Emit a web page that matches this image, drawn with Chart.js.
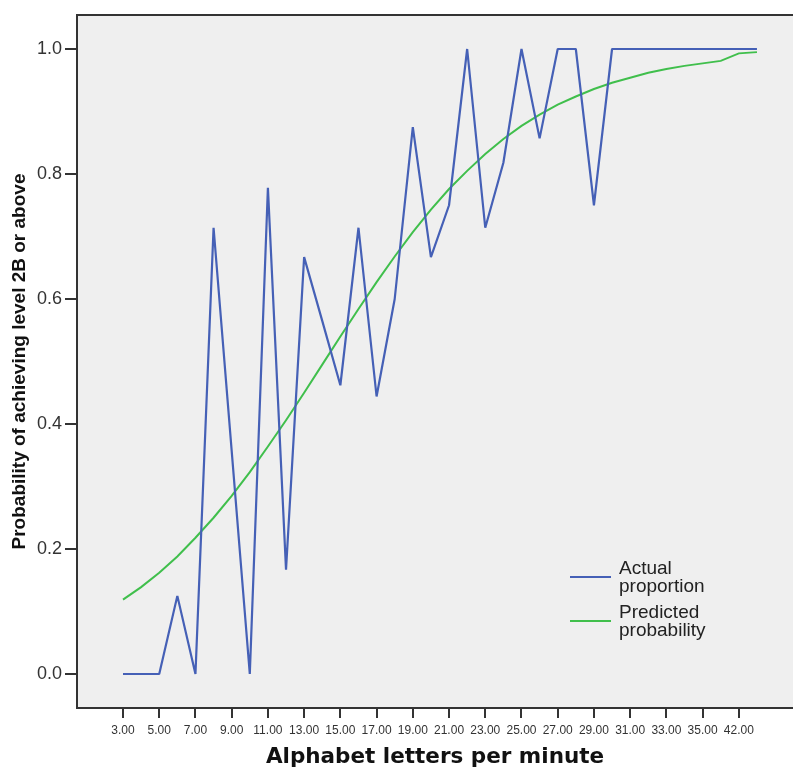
<!DOCTYPE html>
<html>
<head>
<meta charset="utf-8">
<script src="https://cdn.jsdelivr.net/npm/chart.js@4"></script>
<style>
  html, body { margin: 0; padding: 0; background: #fff; }
  #wrap { width: 793px; height: 767px; }
</style>
</head>
<body>
<div id="wrap"><canvas id="myChart" width="793" height="767"></canvas></div>
<script>
// categories on the x axis (only every other one gets a label)
const categories = ["3.00", "4.00", "5.00", "6.00", "7.00", "8.00", "9.00", "10.00", "11.00", "12.00",
    "13.00", "14.00", "15.00", "16.00", "17.00", "18.00", "19.00", "20.00", "21.00", "22.00",
    "23.00", "24.00", "25.00", "26.00", "27.00", "28.00", "29.00", "30.00", "31.00", "32.00",
    "33.00", "34.00", "35.00", "36.00", "42.00", "45.00"];
const actualProportion = [0, 0, 0, 0.125, 0, 0.714, 0.357, 0, 0.778, 0.167,
    0.667, 0.565, 0.462, 0.714, 0.444, 0.6, 0.875, 0.667, 0.75, 1,
    0.714, 0.818, 1, 0.857, 1, 1, 0.75, 1, 1, 1,
    1, 1, 1, 1, 1, 1];
const predictedProbability = [0.119, 0.139, 0.162, 0.188, 0.218, 0.25, 0.285, 0.323, 0.364, 0.406,
    0.45, 0.495, 0.54, 0.584, 0.627, 0.668, 0.707, 0.743, 0.776, 0.805,
    0.832, 0.856, 0.877, 0.895, 0.911, 0.924, 0.936, 0.946, 0.954, 0.962,
    0.968, 0.973, 0.977, 0.981, 0.993, 0.995];
const labelledIdx = [0, 2, 4, 6, 8, 10, 12, 14, 16, 18, 20, 22, 24, 26, 28, 30, 32, 34];
const yTicks = [0, 0.2, 0.4, 0.6, 0.8, 1.0];

const toPoints = arr => arr.map((v, i) => ({ x: i, y: v }));

// grey plot area + top edge of the frame
const frame = {
    id: "frame",
    beforeDraw(chart) {
        const { ctx, chartArea: a } = chart;
        ctx.save();
        ctx.fillStyle = "#efefef";
        ctx.fillRect(a.left, a.top, a.right - a.left, a.bottom - a.top);
        ctx.strokeStyle = "#333";
        ctx.lineWidth = 2;
        ctx.beginPath();
        ctx.moveTo(a.left, a.top);
        ctx.lineTo(a.right, a.top);
        ctx.stroke();
        ctx.restore();
    }
};

// legend inside the plot, labels broken over two lines
const insideLegend = {
    id: "insideLegend",
    afterDatasetsDraw(chart) {
        const { ctx, chartArea: a } = chart;
        ctx.save();
        ctx.font = "19px 'Liberation Sans', Arial, sans-serif";
        ctx.fillStyle = "#222";
        ctx.textBaseline = "alphabetic";
        chart.data.datasets.forEach((ds, i) => {
            const ly = a.bottom - 131 + i * 44;
            ctx.strokeStyle = ds.borderColor;
            ctx.lineWidth = 2;
            ctx.beginPath();
            ctx.moveTo(a.left + 493, ly);
            ctx.lineTo(a.left + 534, ly);
            ctx.stroke();
            ds.label.split(" ").forEach((line, j) => {
                ctx.fillText(line, a.left + 542, ly - 3 + j * 18);
            });
        });
        ctx.restore();
    }
};

new Chart(document.getElementById("myChart"), {
    type: "line",
    data: {
        datasets: [{
            label: "Actual proportion",
            data: toPoints(actualProportion),
            borderColor: "#4560b6",
            borderWidth: 2.2,
            borderJoinStyle: "bevel",
            pointRadius: 0,
            tension: 0
        }, {
            label: "Predicted probability",
            data: toPoints(predictedProbability),
            borderColor: "#40bf4c",
            borderWidth: 2,
            pointRadius: 0,
            tension: 0
        }]
    },
    options: {
        responsive: false,
        animation: false,
        layout: { padding: { top: 15, right: 0, left: 0, bottom: 0 } },
        plugins: { legend: { display: false }, tooltip: { enabled: false } },
        scales: {
            x: {
                type: "linear",
                min: -2.54,
                max: 36.99,
                afterBuildTicks: s => { s.ticks = labelledIdx.map(v => ({ value: v })); },
                afterFit: s => { s.height = 59; },
                ticks: {
                    autoSkip: false,
                    maxRotation: 0,
                    padding: 5,
                    color: "#333",
                    font: { family: "'Liberation Sans', Arial, sans-serif", size: 12 },
                    callback: v => categories[v]
                },
                grid: { drawOnChartArea: false, tickLength: 10, color: "#333", lineWidth: 2 },
                border: { color: "#333", width: 2 },
                title: {
                    display: true,
                    text: "Alphabet letters per minute",
                    color: "#111",
                    font: { family: "'DejaVu Sans', sans-serif", size: 21.5, weight: "bold", lineHeight: 0.9 },
                    padding: { top: 0, bottom: 0 }
                }
            },
            y: {
                min: -0.0544,
                max: 1.0544,
                afterBuildTicks: s => { s.ticks = yTicks.map(v => ({ value: v })); },
                afterFit: s => { s.width = 77; },
                ticks: {
                    padding: 3,
                    color: "#333",
                    font: { family: "'Liberation Sans', Arial, sans-serif", size: 18 },
                    callback: v => v.toFixed(1)
                },
                grid: { drawOnChartArea: false, tickLength: 12, color: "#333", lineWidth: 2 },
                border: { color: "#333", width: 2 },
                title: {
                    display: true,
                    text: "Probability of achieving level 2B or above",
                    color: "#111",
                    font: { family: "'Liberation Sans', sans-serif", size: 19, weight: "bold" },
                    padding: { top: 8, bottom: 0 }
                }
            }
        }
    },
    plugins: [frame, insideLegend]
});
</script>
</body>
</html>
